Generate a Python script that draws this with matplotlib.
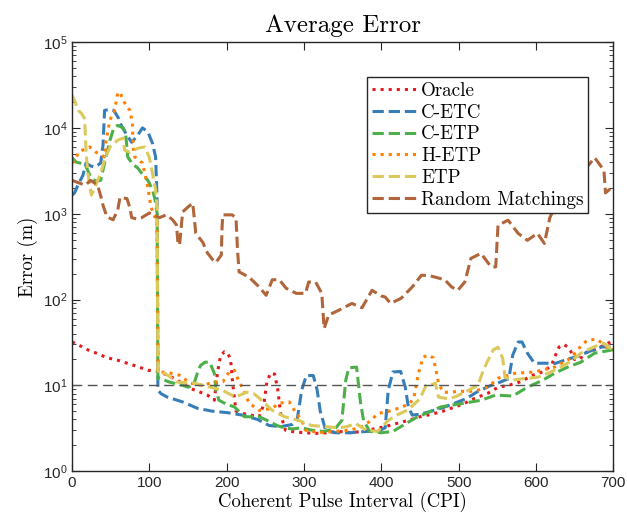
import numpy as np
import matplotlib
matplotlib.use('Agg')
import matplotlib.pyplot as plt

plt.rcParams['font.family'] = ['Liberation Sans', 'DejaVu Sans']
plt.rcParams['mathtext.fontset'] = 'custom'
plt.rcParams['mathtext.rm'] = 'Liberation Sans'
plt.rcParams['mathtext.it'] = 'Liberation Sans:italic'

# values
oracle_x = [0, 10, 20, 30, 45, 60, 72, 85, 98, 111, 125, 136, 153, 166, 175, 184, 188, 192, 197, 201,
            205, 208, 212, 225, 242, 248, 252, 257, 262, 266, 270, 276, 289, 315, 330, 345, 360, 375,
            390, 405, 420, 435, 450, 465, 480, 495, 505, 520, 538, 551, 565, 580, 595, 610, 620, 625,
            630, 636, 641, 645, 650, 657, 663, 672, 680, 690, 700]
oracle_y = [32, 29, 26, 24, 21, 19.5, 18, 16.5, 15, 14.5, 13, 11.5, 9.2, 8.3, 7.7, 6.7, 14, 22, 24.6, 24,
            20, 10, 5, 4.6, 4.3, 6, 11, 14, 13.5, 9, 4.5, 3.0, 2.85, 2.75, 2.8, 2.9, 2.8, 2.9,
            3.1, 3.3, 3.6, 3.9, 4.3, 4.6, 5, 5.6, 6, 7, 8.1, 9.5, 10, 11, 13, 14.5, 17, 22,
            28, 30, 28, 25, 20, 20, 24, 25, 27, 30, 33]

cetc_x = [0, 3, 8, 14, 18, 24, 30, 37, 40, 42, 49, 54, 60, 64, 70, 77, 84, 91, 98, 104, 108, 110,
          111, 115, 123, 143, 162, 181, 201, 220, 240, 255, 270, 285, 291, 297, 303, 312, 317, 321,
          328, 340, 360, 380, 395, 405, 409, 415, 425, 431, 435, 440, 450, 465, 480, 495, 510, 525,
          540, 555, 565, 570, 577, 582, 589, 598, 611, 625, 640, 655, 670, 685, 700]
cetc_y = [1650, 1740, 2200, 2800, 3900, 3600, 3500, 3900, 6300, 16000, 16500, 16000, 13000, 10500,
          8500, 6800, 8000, 10000, 9000, 6600, 4600, 1400,
          8.8, 8.0, 7.3, 6.4, 5.4, 5.0, 4.8, 4.5, 4.0, 3.4, 3.3, 3.5, 3.9, 8.8, 13, 13, 8.8, 5,
          3.0, 2.8, 2.8, 2.9, 2.9, 3.2, 8.8, 14.3, 14.5, 9.5, 5.6, 4.5, 4.6, 5.0, 5.5, 6.2, 7.0, 8.5,
          9.8, 11, 12, 22.5, 32, 32, 23.7, 18.1, 18.1, 18, 20, 22, 25, 28, 28]

cetp_x = [0, 5, 10, 17, 24, 30, 37, 42, 49, 54, 59, 66, 69, 72, 78, 85, 92, 98, 104, 107, 110,
          111, 113, 126, 143, 150, 157, 162, 166, 172, 178, 184, 186, 190, 200, 210, 223, 242, 255,
          265, 274, 285, 297, 310, 325, 340, 349, 354, 358, 368, 373, 377, 385, 400, 415, 430, 445,
          460, 477, 492, 508, 529, 548, 570, 589, 609, 624, 641, 658, 676, 700]
cetp_y = [4500, 4000, 3900, 3700, 2700, 2400, 2450, 3900, 7200, 10000, 10700, 10000, 9000, 4600,
          3800, 3400, 2800, 2450, 1900, 1500, 1000,
          12, 12.1, 10.9, 10, 9.5, 10, 13.8, 17, 18.6, 18.6, 13.8, 8.8, 6.7, 6, 5.6, 4.3, 4.3, 3.8,
          3.4, 3.2, 3.1, 3.2, 3.0, 2.9, 3.1, 3.9, 11.5, 16, 16.3, 6.4, 3.9, 2.9, 2.8, 2.9, 3.5, 4.2,
          4.8, 5.6, 5.9, 6.2, 6.7, 7.7, 7.5, 9.5, 11.5, 13.8, 16.3, 18.6, 23.7, 26]

hetp_x = [0, 4, 8, 15, 23, 31, 38, 42, 44, 49, 55, 59, 62, 66, 72, 75, 78, 79, 81, 91, 98, 102,
          107, 110, 111, 115, 125, 139, 153, 168, 184, 195, 203, 210, 216, 220, 229, 242, 259, 268,
          281, 290, 297, 302, 320, 340, 360, 375, 385, 396, 410, 422, 435, 442, 448, 454, 461, 467,
          470, 474, 480, 489, 500, 515, 525, 538, 551, 573, 598, 624, 645, 660, 667, 679, 692, 700]
hetp_y = [3900, 4200, 5200, 5600, 6000, 5200, 4800, 4600, 7200, 12400, 16000, 25700, 26000, 21000,
          17000, 16000, 11000, 6000, 4600, 3900, 2050, 1200, 920, 900,
          14.3, 14.3, 14, 13.1, 10.6, 10, 10.9, 11, 14.3, 15, 10.9, 9.5, 6.2, 5.1, 5.4, 6.2,
          6.4, 4.7, 3.9, 3.0, 2.8, 2.9, 3.0, 3.3, 3.8, 4.7, 5.0, 5.4, 6.0, 7, 13.8, 21.3, 22.5, 21,
          16.3, 10.6, 8.3, 8.3, 8.5, 8.5, 8.8, 9.5, 12.1, 13.8, 14.3, 16.3, 20.7, 30, 33.6, 34.5, 27.8, 27]

etp_x = [0, 3, 8, 12, 16, 17, 18, 20, 23, 25, 30, 37, 42, 49, 59, 66, 68, 75, 85, 94, 100, 104,
         108, 110, 111, 120, 136, 158, 179, 194, 211, 226, 235, 242, 259, 275, 293, 310, 328, 345,
         356, 367, 380, 395, 409, 420, 435, 450, 458, 463, 470, 474, 485, 495, 510, 525, 532, 538,
         545, 551, 557, 560, 570, 585, 602, 617, 632, 645, 658, 675, 688, 696, 700]
etp_y = [24000, 21000, 16000, 14800, 13000, 8800, 5500, 3200, 2050, 1650, 2100, 2950, 4200, 6000,
         7200, 7600, 5500, 5200, 5800, 6000, 4500, 2950, 1900, 1200,
         14, 13.8, 10.9, 10.6, 9.5, 8.8, 7.3, 8.3, 8.0, 7.1, 5.1, 4.3, 3.9, 3.4, 3.3, 3.2,
         3.3, 3.6, 3.0, 2.9, 3.9, 4.5, 5.2, 7, 10, 10, 10.6, 7.3, 7.0, 7.3, 8.5, 10, 15, 19.6,
         26, 27.8, 20.7, 12.4, 11.5, 12, 12.4, 14, 16.3, 19, 23.7, 28, 31, 27, 28]

rand_x = [0, 8, 17, 24, 33, 38, 40, 45, 53, 59, 62, 71, 75, 77, 83, 90, 100, 107, 113, 122, 130,
          135, 137, 139, 143, 150, 156, 158, 160, 169, 175, 182, 186, 193, 194, 195, 207, 212, 214,
          216, 229, 242, 251, 259, 268, 277, 290, 302, 306, 315, 323, 326, 332, 345, 362, 375, 388,
          400, 405, 412, 426, 440, 452, 462, 470, 482, 491, 499, 508, 516, 529, 542, 548, 551, 564,
          577, 589, 602, 611, 618, 630, 645, 660, 676, 688, 690, 699]
rand_y = [2450, 2300, 2150, 2450, 2150, 1500, 1250, 920, 850, 1100, 1550, 1500, 1150, 900, 870,
          900, 1020, 950, 900, 970, 850, 740, 450, 430, 1050, 1200, 1330, 900, 590, 465, 350, 290,
          270, 330, 700, 970, 970, 900, 375, 210, 182, 140, 112, 170, 170, 135, 118, 118, 160, 160,
          118, 46, 66, 75, 90, 80, 128, 110, 107, 90, 104, 140, 192, 190, 182, 170, 140, 128, 160,
          302, 345, 240, 240, 735, 840, 590, 490, 590, 450, 900, 1500, 2200, 3000, 4500, 3200,
          1750, 2050]

labels = ['Oracle', 'C-ETC', 'C-ETP', 'H-ETP', 'ETP', 'Random Matchings']
colors = ['#E41A1C', '#377EB8', '#4DAF4A', '#FF7F00', '#DCC95C', '#B0653A']
styles = [':', '--', '--', ':', '--', '--']
series = [(oracle_x, oracle_y), (cetc_x, cetc_y), (cetp_x, cetp_y),
          (hetp_x, hetp_y), (etp_x, etp_y), (rand_x, rand_y)]

fig = plt.figure(figsize=(6.27, 5.2), dpi=100)
ax = fig.add_axes([0.115, 0.094, 0.863, 0.825])

for (xs, ys), lab, c, ls in zip(series, labels, colors, styles):
    ax.plot(xs, ys, ls, color=c, lw=2.2, label=lab)

ax.axhline(10, color='#555555', ls='--', lw=1.0, dashes=(7, 4))

ax.set_yscale('log')
ax.set_xlim(0, 700)
ax.set_ylim(1, 1e5)
ax.set_xticks(np.arange(0, 701, 100))

serif = 'cmr10'
ax.set_title('Average Error', fontfamily=serif, fontsize=18, pad=7)
ax.set_xlabel('Coherent Pulse Interval (CPI)', fontfamily=serif, fontsize=13.5, labelpad=1)
ax.set_ylabel('Error (m)', fontfamily=serif, fontsize=13.5, labelpad=3)

ax.tick_params(which='both', direction='in', top=True, right=True, labelsize=11,
               colors='#262626')
ax.tick_params(which='major', length=6)
ax.tick_params(which='minor', length=3)
for s in ax.spines.values():
    s.set_color('#262626')
    s.set_linewidth(1.0)

leg = ax.legend(loc='upper left', bbox_to_anchor=(0.545, 0.918), prop={'family': serif, 'size': 13.7},
                handlelength=2.5, handletextpad=0.1, labelspacing=0.2, borderpad=0.25,
                fancybox=False, framealpha=1, borderaxespad=0)
leg.get_frame().set_edgecolor('#262626')
leg.get_frame().set_linewidth(1.0)

fig.savefig('out.png', dpi=100)
